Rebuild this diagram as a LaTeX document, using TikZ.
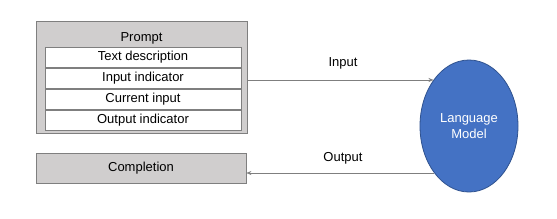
\documentclass[tikz,border=0pt]{standalone}
\usepackage{fontspec}
\setmainfont{Liberation Sans}
\usetikzlibrary{arrows.meta,shapes.geometric}
\definecolor{boxgray}{HTML}{D0CECE}
\definecolor{edgegray}{HTML}{7F7F7F}
\definecolor{lmblue}{HTML}{4472C4}
\definecolor{lmedge}{HTML}{2F528F}
\begin{document}
\begin{tikzpicture}[x=1pt,y=-1pt,
  outerbox/.style={draw=edgegray,fill=boxgray,line width=0.8pt},
  innerbox/.style={draw=edgegray,fill=white,line width=0.8pt,minimum width=196pt,minimum height=20pt,inner sep=0pt,font=\fontsize{13}{14}\selectfont},
  lbl/.style={font=\fontsize{13}{14}\selectfont,inner sep=0pt},
  conn/.style={draw=edgegray,line width=0.6pt,-{Stealth[length=5pt,width=4pt]}}]
\useasboundingbox (0,0) rectangle (557,218);
\fill[white] (0,0) rectangle (557,218);
% Prompt box
\node[outerbox,minimum width=211pt,minimum height=112pt,inner sep=0pt] (prompt) at (141.5,77) {};
\node[lbl] (ptitle) at (141.5,38) {Prompt};
\node[innerbox] (td) at (143,57.5) {Text description};
\node[innerbox] (ii) at (143,78.5) {Input indicator};
\node[innerbox] (ci) at (143,99.5) {Current input};
\node[innerbox] (oi) at (143,120.5) {Output indicator};
% Completion
\node[outerbox,minimum width=210pt,minimum height=30pt,inner sep=0pt,font=\fontsize{13}{14}\selectfont] (comp) at (141,168) {Completion};
% Language model
\node[ellipse,draw=lmedge,fill=lmblue,line width=0.8pt,minimum width=98pt,minimum height=132pt,inner sep=0pt,align=center,text=white,font=\fontsize{13}{16}\selectfont] (lm) at (469,126) {Language\\Model};
% connectors
\coordinate (inend) at (433.5,80);
\coordinate (outstart) at (433.5,173);
\draw[conn] (prompt.east |- inend) -- (inend);
\draw[conn] (outstart) -- (comp.east |- outstart);
\node[lbl] (inlbl) at (343,63) {Input};
\node[lbl] (outlbl) at (343,158) {Output};
\end{tikzpicture}
\end{document}
